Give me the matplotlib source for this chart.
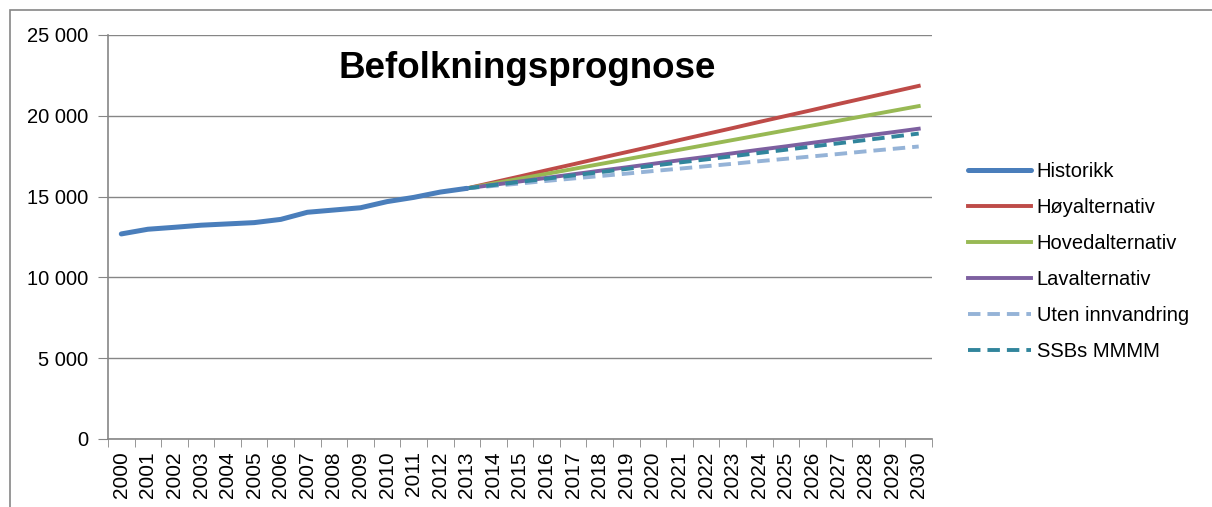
import matplotlib.pyplot as plt
from matplotlib.patches import Rectangle
from matplotlib.ticker import FuncFormatter, MultipleLocator

plt.rcParams['font.family'] = ['Liberation Sans', 'DejaVu Sans']

# Data
years = list(range(2000, 2031))
hist_years = list(range(2000, 2014))
prog_years = list(range(2013, 2031))

historikk = [12690, 12980, 13100, 13230, 13310, 13390, 13590, 14030,
             14170, 14310, 14690, 14950, 15280, 15510]
hoy = [15510, 15880, 16250, 16630, 17000, 17380, 17750, 18120, 18500,
       18870, 19240, 19620, 19990, 20360, 20740, 21110, 21480, 21850]
hoved = [15510, 15810, 16110, 16410, 16710, 17010, 17310, 17610, 17900,
         18200, 18500, 18800, 19100, 19400, 19700, 20000, 20300, 20600]
lav = [15510, 15730, 15940, 16160, 16380, 16600, 16810, 17030, 17250,
       17460, 17680, 17900, 18110, 18330, 18550, 18770, 18980, 19200]
uten = [15510, 15660, 15810, 15970, 16120, 16270, 16420, 16580, 16730,
        16880, 17030, 17190, 17340, 17490, 17640, 17800, 17950, 18100]
ssb = [15510, 15710, 15910, 16110, 16310, 16510, 16710, 16910, 17110,
       17300, 17500, 17700, 17900, 18100, 18300, 18500, 18700, 18900]

# Figure and plot area
W, H = 1212, 507
fig = plt.figure(figsize=(W / 100, H / 100), dpi=100)
ax = fig.add_axes([108 / W, 1 - 439 / H, (932 - 108) / W, (439 - 35) / H])

# chart border (top and left only visible)
fig.patches.append(Rectangle((10 / W, -0.1), 1.2, 1 - 10 / H + 0.1,
                             transform=fig.transFigure, fill=False,
                             edgecolor='#868686', lw=1.2))

def idx(ys):
    return [y - 2000 for y in ys]

ax.plot(idx(prog_years), hoy, color='#BE4B48', lw=2.8, label='Høyalternativ', zorder=3)
ax.plot(idx(prog_years), hoved, color='#98B954', lw=2.8, label='Hovedalternativ', zorder=3)
ax.plot(idx(prog_years), lav, color='#7D60A0', lw=2.8, label='Lavalternativ', zorder=3)
ax.plot(idx(prog_years), uten, color='#95B3D7', lw=2.8, ls=(0, (3.2, 1.8)),
        label='Uten innvandring', zorder=3)
ax.plot(idx(prog_years), ssb, color='#31859C', lw=2.8, ls=(0, (3.2, 1.8)),
        label='SSBs MMMM', zorder=4)
ax.plot(idx(hist_years), historikk, color='#4A7EBB', lw=3.6, label='Historikk',
        zorder=5, solid_capstyle='round')

ax.set_xlim(-0.5, len(years) - 0.5)
ax.set_ylim(0, 25000)
ax.yaxis.set_major_locator(MultipleLocator(5000))
ax.yaxis.set_major_formatter(FuncFormatter(lambda v, p: f'{int(v):,}'.replace(',', ' ')))
ax.grid(axis='y', color='#868686', lw=1)
ax.set_axisbelow(True)

ax.set_xticks(range(len(years)))
ax.set_xticklabels([str(y) for y in years], rotation=90)
ax.set_xticks([i - 0.5 for i in range(len(years) + 1)], minor=True)
ax.tick_params(axis='x', which='major', length=0, pad=9, labelsize=15)
ax.tick_params(axis='x', which='minor', length=6, color='#868686', direction='out')
ax.tick_params(axis='y', length=7, color='#868686', pad=7, labelsize=14.5)

for s in ['top', 'right']:
    ax.spines[s].set_visible(False)
for s in ['left', 'bottom']:
    ax.spines[s].set_color('#868686')
    ax.spines[s].set_linewidth(1.2)

fig.text(527 / W, 1 - 78 / H, 'Befolkningsprognose', ha='center', va='baseline',
         fontsize=26.5, fontweight='bold')

handles, labels = ax.get_legend_handles_labels()
order = [5, 0, 1, 2, 3, 4]
fig.legend([handles[i] for i in order], [labels[i] for i in order],
           loc='upper left', bbox_to_anchor=(950 / W, 1 - 144 / H),
           frameon=False, fontsize=14.5, handlelength=3.1, handletextpad=0.3,
           labelspacing=0.84)

fig.savefig('out.png', dpi=100)
